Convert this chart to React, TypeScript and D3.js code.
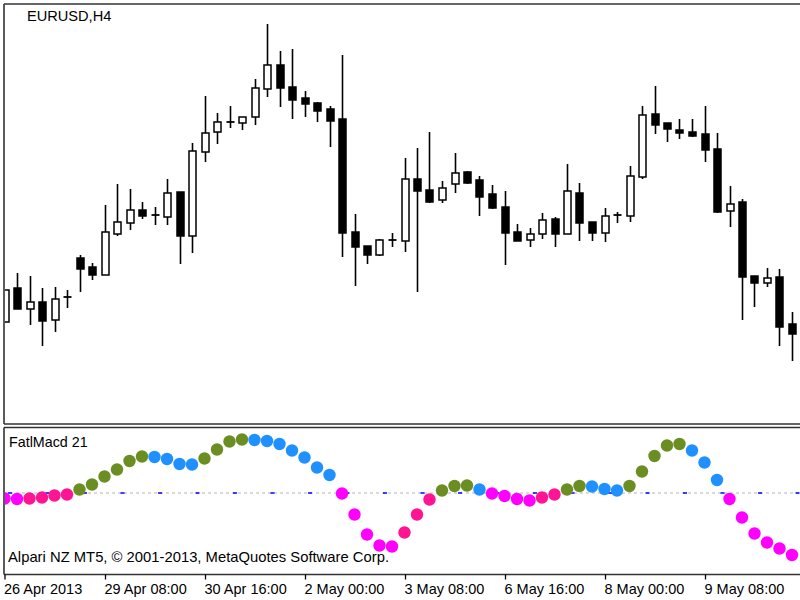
import * as d3 from "d3";

const W = 800;
const H = 600;
const MAIN = { top: 4, bottom: 424, left: 4 };
const SUB = { top: 427.5, bottom: 574.5, left: 4 };

// EURUSD H4 bars, 26 Apr 2013 .. 9 May 2013
const opens = [
  1.3089, 1.3106, 1.30955, 1.3099, 1.309, 1.31015, 1.3121, 1.31165, 1.31125, 1.3133,
  1.31385, 1.3145, 1.31425, 1.31415, 1.3154, 1.3132, 1.3174, 1.3184, 1.3189, 1.31885,
  1.31915, 1.32055, 1.32175, 1.32065, 1.3201, 1.31985, 1.31955, 1.31905, 1.3134, 1.3127,
  1.31225, 1.313, 1.31295, 1.31605, 1.3155, 1.315, 1.3158, 1.3164, 1.316, 1.3153,
  1.31465, 1.3134, 1.313, 1.3133, 1.31405, 1.3133, 1.31535, 1.3139, 1.31335, 1.3142,
  1.3142, 1.31615, 1.3193, 1.31885, 1.3185, 1.3184, 1.3183, 1.31755, 1.31445, 1.3149,
  1.3112, 1.31085, 1.31115, 1.3088,
];
const highs = [
  1.3105, 1.31135, 1.3112, 1.3106, 1.31065, 1.3105, 1.31225, 1.31185, 1.31475, 1.3158,
  1.31555, 1.3149, 1.31465, 1.31605, 1.3154, 1.31785, 1.3202, 1.31935, 1.3197, 1.31915,
  1.32105, 1.3238, 1.32245, 1.32255, 1.32045, 1.3199, 1.3197, 1.32225, 1.3143, 1.3127,
  1.31305, 1.31335, 1.3171, 1.3176, 1.3184, 1.31595, 1.31735, 1.31645, 1.3162, 1.31575,
  1.31545, 1.3138, 1.3136, 1.31435, 1.31415, 1.3168, 1.31585, 1.3139, 1.3146, 1.3144,
  1.3167, 1.3197, 1.3207, 1.31885, 1.31905, 1.31905, 1.3197, 1.31835, 1.3157, 1.31505,
  1.3112, 1.3116, 1.31155, 1.3094,
];
const lows = [
  1.30889, 1.30955, 1.30875, 1.3077, 1.3084, 1.3096, 1.3104, 1.311, 1.31125, 1.3132,
  1.3135, 1.31405, 1.31375, 1.31375, 1.3118, 1.31235, 1.3169, 1.3178, 1.3186, 1.3185,
  1.31875, 1.32015, 1.31965, 1.31905, 1.31915, 1.3189, 1.31765, 1.31215, 1.3107, 1.3118,
  1.3122, 1.31265, 1.3124, 1.3104, 1.31485, 1.31485, 1.31535, 1.3158, 1.3142, 1.31455,
  1.31175, 1.31295, 1.31265, 1.31305, 1.31265, 1.3133, 1.31295, 1.31295, 1.3129, 1.31385,
  1.3139, 1.31605, 1.3183, 1.3179, 1.31805, 1.31815, 1.3169, 1.31435, 1.31365, 1.309,
  1.30965, 1.31065, 1.3077, 1.30695,
];
const closes = [
  1.3105, 1.30955, 1.3099, 1.30895, 1.31005, 1.31015, 1.31155, 1.31125, 1.3134, 1.3139,
  1.3145, 1.3142, 1.31425, 1.31535, 1.3132, 1.31745, 1.31835, 1.3189, 1.31885, 1.31915,
  1.3206, 1.32175, 1.3206, 1.32, 1.3198, 1.31945, 1.31895, 1.31335, 1.31265, 1.31225,
  1.313, 1.313, 1.31605, 1.31545, 1.3149, 1.3156, 1.31635, 1.31585, 1.31515, 1.3146,
  1.31335, 1.31295, 1.3133, 1.314, 1.3133, 1.31545, 1.31385, 1.31335, 1.3142, 1.31425,
  1.3162, 1.31925, 1.31875, 1.31855, 1.31835, 1.3182, 1.3175, 1.3144, 1.3148, 1.31115,
  1.31085, 1.3111, 1.30865, 1.3083,
];

// FatlMacd 21 values, one per bar
const macd = [
  -0.00011, -0.00012, -0.00011, -0.00009, -0.00005, -0.00003, 0.00007, 0.00017, 0.00033, 0.00047,
  0.00064, 0.00073, 0.00072, 0.00068, 0.00058, 0.00057, 0.00069, 0.00087, 0.00103, 0.00107,
  0.00106, 0.00104, 0.00098, 0.00085, 0.00071, 0.00051, 0.00036, -0.00001, -0.00043, -0.00083,
  -0.00105, -0.00107, -0.00079, -0.00043, -0.00013, 0.00005, 0.00014, 0.00015, 0.00007, -0.00001,
  -0.00006, -0.00012, -0.00015, -0.00009, -0.00003, 0.00007, 0.00014, 0.00013, 0.00008, 0.00005,
  0.00014, 0.00043, 0.00074, 0.00095, 0.00098, 0.00085, 0.00061, 0.00026, -0.00012, -0.00049,
  -0.00081, -0.00099, -0.00111, -0.00124,
];

const tickIdx = [0, 8, 16, 24, 32, 40, 48, 56];
const tickLabels = [
  "26 Apr 2013",
  "29 Apr 08:00",
  "30 Apr 16:00",
  "2 May 00:00",
  "3 May 08:00",
  "6 May 16:00",
  "8 May 00:00",
  "9 May 08:00",
];

const FONT = "Liberation Sans, Arial, sans-serif";

export default function App() {
  const n = opens.length;
  const x = d3.scaleLinear().domain([0, n - 1]).range([4.5, 4.5 + 12.5 * (n - 1)]);
  const y = d3.scaleLinear().domain([1.325, 1.3048]).range([0, 404]);
  const yi = d3.scaleLinear().domain([0.0013, -0.0013]).range([428, 558]);
  const zero = yi(0);

  // colour by sign and direction, as the indicator does
  const dotColor = (i: number) => {
    const v = macd[i];
    const rising = i > 0 && v > macd[i - 1];
    if (v >= 0) return rising ? "#6b8e23" : "#1e90ff";
    return rising ? "#ff1493" : "#ff00ff";
  };

  return (
    <svg
      width={W}
      height={H}
      style={{ position: "absolute", left: 0, top: 0, background: "#fff" }}
    >
      <defs>
        <clipPath id="mainClip">
          <rect x={MAIN.left + 1} y={MAIN.top + 1} width={W} height={MAIN.bottom - MAIN.top - 2} />
        </clipPath>
        <clipPath id="subClip">
          <rect x={SUB.left + 1} y={SUB.top + 1} width={W} height={SUB.bottom - SUB.top - 2} />
        </clipPath>
      </defs>

      {/* candles */}
      <g clipPath="url(#mainClip)">
        {opens.map((o, i) => {
          const c = closes[i];
          const cx = Math.round(x(i)) + 0.5;
          const yo = y(o);
          const yc = y(c);
          const top = Math.min(yo, yc);
          const h = Math.abs(yo - yc);
          const bull = c > o;
          return (
            <g key={i}>
              <line
                x1={cx}
                x2={cx}
                y1={y(highs[i])}
                y2={y(lows[i])}
                stroke="#000"
                strokeWidth={1.6}
              />
              {h < 1 ? (
                <line x1={cx - 4} x2={cx + 4} y1={top} y2={top} stroke="#000" strokeWidth={1.8} />
              ) : (
                <rect
                  x={cx - 3.5}
                  y={top}
                  width={7}
                  height={h}
                  fill={bull ? "#fff" : "#000"}
                  stroke="#000"
                  strokeWidth={1.5}
                />
              )}
            </g>
          );
        })}
      </g>
      <text x={27} y={20.5} fontFamily={FONT} fontSize={14.6} fill="#000">
        EURUSD,H4
      </text>

      {/* indicator */}
      <g clipPath="url(#subClip)">
        <line x1={SUB.left} x2={W} y1={zero} y2={zero} stroke="#b4b4b4" strokeWidth={1} strokeDasharray="3 3" />
        <line x1={8} x2={W} y1={zero} y2={zero} stroke="#0000ff" strokeWidth={1.5} strokeDasharray="4 33.5" />
        {macd.map((v, i) => (
          <circle key={i} cx={x(i)} cy={yi(v)} r={6.2} fill={dotColor(i)} />
        ))}
      </g>
      <text x={9} y={447} fontFamily={FONT} fontSize={14.3} fill="#000">
        FatlMacd 21
      </text>
      <text x={8} y={561.5} fontFamily={FONT} fontSize={14.8} fill="#000">
        Alpari NZ MT5, © 2001-2013, MetaQuotes Software Corp.
      </text>

      {/* panel frames */}
      <g fill="none" stroke="#333" strokeWidth={1.6}>
        <line x1={MAIN.left} x2={W} y1={MAIN.top} y2={MAIN.top} />
        <line x1={MAIN.left} x2={W} y1={MAIN.bottom} y2={MAIN.bottom} />
        <line x1={MAIN.left} x2={MAIN.left} y1={MAIN.top} y2={MAIN.bottom} />
        <line x1={SUB.left} x2={W} y1={SUB.top} y2={SUB.top} />
        <line x1={SUB.left} x2={W} y1={SUB.bottom} y2={SUB.bottom} />
        <line x1={SUB.left} x2={SUB.left} y1={SUB.top} y2={SUB.bottom} />
      </g>

      {/* time axis */}
      {tickIdx.map((t, k) => {
        const tx = Math.round(x(t)) + 0.5 - (k === 0 ? 0.5 : 0);
        return (
          <g key={t}>
            <line x1={tx} x2={tx} y1={SUB.bottom} y2={579.5} stroke="#000" strokeWidth={1.3} />
            <text x={k === 0 ? 4 : tx - 1} y={594} fontFamily={FONT} fontSize={14.5} fill="#000">
              {tickLabels[k]}
            </text>
          </g>
        );
      })}
    </svg>
  );
}
